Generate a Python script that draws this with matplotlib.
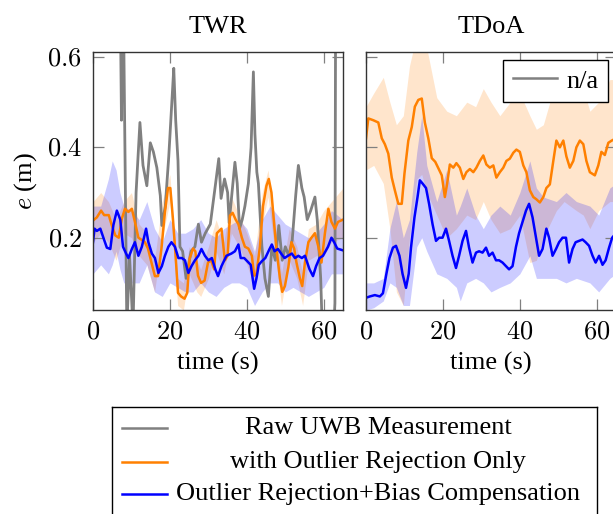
import numpy as np
import matplotlib
matplotlib.use("Agg")
import matplotlib.pyplot as plt
from matplotlib.lines import Line2D

plt.rcParams['font.family'] = ['Liberation Serif', 'DejaVu Serif']
plt.rcParams['mathtext.fontset'] = 'cm'

# ---------------- data ----------------
titles = ["TWR", "TDoA"]
xticks = [0, 20, 40, 60]
yticks = [0.2, 0.4, 0.6]
legend_labels = ["Raw UWB Measurement", "with Outlier Rejection Only",
                 "Outlier Rejection+Bias Compensation"]
na_label = "n/a"

# TWR raw measurement error (t, e)
twr_raw = [(7.0, 0.80), (7.4, 0.46), (7.8, 0.80), (8.8, 0.00), (9.5, 0.16), (10.4, 0.00),
           (11.2, 0.30), (12.2, 0.455), (13.0, 0.36), (14.0, 0.315), (14.9, 0.41), (15.7, 0.39),
           (16.6, 0.355), (17.5, 0.293), (17.9, 0.227), (18.8, 0.27), (19.7, 0.38), (20.6, 0.515),
           (21.0, 0.575), (21.5, 0.46), (22.1, 0.37), (22.6, 0.18), (23.3, 0.17), (24.2, 0.11),
           (25.5, 0.17), (26.5, 0.18), (27.4, 0.23), (28.2, 0.19), (29.2, 0.21), (30.5, 0.23),
           (31.8, 0.315), (32.7, 0.375), (33.3, 0.287), (34.2, 0.33), (35.0, 0.30), (35.4, 0.233),
           (36.0, 0.287), (36.9, 0.367), (37.5, 0.32), (38.1, 0.22), (38.8, 0.24), (39.5, 0.27),
           (40.4, 0.32), (41.1, 0.40), (41.7, 0.567), (42.1, 0.43), (42.6, 0.345), (43.0, 0.32),
           (43.9, 0.182), (44.7, 0.11), (45.6, 0.07), (46.5, 0.18), (47.4, 0.15), (48.3, 0.227),
           (49.2, 0.15), (50.0, 0.18), (50.9, 0.16), (51.8, 0.195), (52.7, 0.293), (53.4, 0.36),
           (54.3, 0.31), (54.9, 0.29), (55.7, 0.24), (56.6, 0.26), (57.7, 0.29), (58.3, 0.24),
           (59.2, 0.11), (59.6, 0.00), (60.3, 0.00), (61.5, 0.00), (62.6, 0.00), (62.9, 0.055),
           (63.1, 0.80), (65.0, 0.80)]

# TWR with outlier rejection only (t, e)
twr_or = [(0, 0.238), (1.0, 0.245), (2.1, 0.26), (2.9, 0.25), (4.1, 0.25), (4.9, 0.227),
          (5.8, 0.205), (6.7, 0.20), (7.5, 0.242), (8.3, 0.264), (9.2, 0.257), (10.1, 0.264),
          (10.9, 0.235), (11.8, 0.20), (12.7, 0.195), (13.5, 0.19), (14.3, 0.176), (15.2, 0.145),
          (16.1, 0.115), (16.9, 0.115), (17.8, 0.176), (18.7, 0.257), (19.5, 0.31), (20.1, 0.31),
          (20.8, 0.24), (21.4, 0.17), (22.1, 0.078), (22.9, 0.07), (23.8, 0.065), (24.5, 0.078),
          (25.1, 0.153), (26.0, 0.176), (26.6, 0.17), (27.3, 0.116), (28.1, 0.10), (29.0, 0.105),
          (29.9, 0.145), (30.7, 0.15), (31.5, 0.13), (32.2, 0.21), (33.4, 0.22), (34.3, 0.15),
          (35.0, 0.16), (35.6, 0.249), (36.3, 0.255), (37.1, 0.24), (37.8, 0.23), (38.7, 0.20),
          (39.5, 0.18), (40.4, 0.176), (41.3, 0.16), (41.9, 0.116), (42.5, 0.12), (43.4, 0.18),
          (44.2, 0.27), (45.1, 0.315), (45.7, 0.33), (46.4, 0.30), (47.1, 0.23), (47.7, 0.176),
          (48.6, 0.11), (49.2, 0.08), (49.9, 0.093), (50.8, 0.135), (51.6, 0.19), (52.3, 0.176),
          (52.9, 0.145), (53.8, 0.11), (54.4, 0.093), (55.1, 0.145), (56.0, 0.19), (56.8, 0.20),
          (57.7, 0.21), (58.6, 0.18), (59.4, 0.145), (60.3, 0.21), (61.2, 0.264), (62.0, 0.235),
          (62.9, 0.22), (63.7, 0.235), (65.0, 0.24)]

# TWR with outlier rejection + bias compensation (t, e)
twr_bc = [(0, 0.19), (0.4, 0.22), (1.0, 0.215), (1.9, 0.22), (2.7, 0.20), (3.6, 0.178),
          (4.5, 0.175), (5.3, 0.228), (6.2, 0.26), (7.1, 0.24), (7.8, 0.18), (8.6, 0.165),
          (9.2, 0.155), (10.1, 0.175), (10.9, 0.19), (11.8, 0.16), (12.7, 0.18), (13.8, 0.22),
          (14.4, 0.19), (15.3, 0.165), (16.1, 0.155), (17.0, 0.122), (17.9, 0.137), (18.7, 0.16),
          (19.6, 0.18), (20.4, 0.19), (21.3, 0.18), (22.2, 0.155), (23.1, 0.155), (23.9, 0.15),
          (24.8, 0.122), (25.6, 0.137), (26.5, 0.15), (27.4, 0.16), (28.2, 0.175), (29.1, 0.16),
          (30.0, 0.15), (30.9, 0.155), (31.8, 0.13), (32.5, 0.115), (33.4, 0.137), (34.7, 0.16),
          (36.0, 0.165), (36.9, 0.17), (37.8, 0.185), (38.4, 0.155), (39.3, 0.155), (40.1, 0.148),
          (41.0, 0.14), (41.9, 0.087), (42.5, 0.11), (43.1, 0.14), (43.9, 0.148), (44.8, 0.155),
          (45.9, 0.175), (46.5, 0.185), (47.2, 0.17), (48.1, 0.175), (48.9, 0.165), (49.8, 0.155),
          (50.7, 0.16), (51.7, 0.165), (52.5, 0.155), (53.4, 0.16), (54.3, 0.155), (55.1, 0.16),
          (56.3, 0.13), (57.2, 0.115), (58.0, 0.137), (58.9, 0.155), (59.8, 0.16), (61.1, 0.18),
          (62.0, 0.20), (62.7, 0.19), (63.5, 0.176), (65.0, 0.172)]

# TWR spread bands (t, low, high)
twr_or_band = [(0, 0.19, 0.28), (2, 0.21, 0.30), (4, 0.19, 0.28), (6, 0.15, 0.24), (8, 0.21, 0.28),
               (10, 0.20, 0.30), (12, 0.16, 0.23), (14, 0.14, 0.21), (16, 0.08, 0.15), (18, 0.20, 0.28),
               (20, 0.28, 0.34), (22, 0.05, 0.11), (23.5, 0.04, 0.10), (25, 0.12, 0.18), (27, 0.08, 0.15),
               (28, 0.07, 0.13), (30, 0.11, 0.18), (32, 0.17, 0.24), (34, 0.12, 0.19), (36, 0.21, 0.29),
               (38, 0.18, 0.25), (40, 0.14, 0.21), (42, 0.09, 0.16), (44, 0.23, 0.30), (45.5, 0.29, 0.35),
               (47, 0.19, 0.26), (49, 0.05, 0.12), (51, 0.15, 0.22), (53, 0.11, 0.18), (54.5, 0.05, 0.12),
               (56, 0.15, 0.22), (58, 0.16, 0.23), (60, 0.16, 0.26), (62, 0.19, 0.28), (65, 0.20, 0.31)]
twr_bc_band = [(0, 0.12, 0.27), (2, 0.14, 0.27), (4, 0.12, 0.33), (5, 0.14, 0.37), (6, 0.17, 0.35),
               (7, 0.13, 0.30), (8, 0.10, 0.27), (10, 0.10, 0.26), (12, 0.10, 0.24), (14, 0.14, 0.28),
               (16, 0.08, 0.22), (18, 0.07, 0.19), (20, 0.10, 0.24), (22, 0.09, 0.21), (24, 0.08, 0.21),
               (26, 0.08, 0.22), (28, 0.10, 0.24), (30, 0.08, 0.21), (32, 0.07, 0.20), (34, 0.09, 0.22),
               (36, 0.10, 0.23), (38, 0.10, 0.24), (40, 0.09, 0.22), (42, 0.05, 0.17), (44, 0.08, 0.24),
               (46, 0.10, 0.27), (48, 0.10, 0.25), (50, 0.08, 0.23), (52, 0.09, 0.22), (54, 0.08, 0.21),
               (56, 0.07, 0.20), (58, 0.08, 0.21), (60, 0.09, 0.23), (62, 0.12, 0.26), (65, 0.12, 0.24)]

# TDoA with outlier rejection only (t, e)
tdoa_or = [(0, 0.42), (0.6, 0.464), (1.9, 0.46), (3.2, 0.455), (4.1, 0.42), (4.9, 0.407), (5.8, 0.386),
           (6.7, 0.333), (7.5, 0.305), (8.4, 0.275), (9.3, 0.275), (10.0, 0.342), (11.0, 0.415),
           (11.9, 0.445), (12.7, 0.49), (13.6, 0.505), (14.5, 0.508), (15.3, 0.455), (16.2, 0.42),
           (17.1, 0.376), (18.0, 0.368), (18.8, 0.354), (19.7, 0.338), (20.5, 0.29), (21.1, 0.32),
           (21.8, 0.362), (22.7, 0.355), (23.5, 0.365), (24.4, 0.355), (25.3, 0.33), (26.1, 0.345),
           (27.0, 0.352), (27.9, 0.345), (28.7, 0.355), (29.6, 0.37), (30.5, 0.382), (31.3, 0.362),
           (32.2, 0.355), (33.1, 0.36), (33.9, 0.333), (34.8, 0.345), (35.7, 0.355), (36.5, 0.37),
           (37.4, 0.375), (38.3, 0.388), (39.1, 0.395), (40.0, 0.39), (40.9, 0.36), (41.7, 0.345),
           (42.6, 0.305), (43.5, 0.29), (44.3, 0.285), (45.2, 0.278), (46.1, 0.29), (46.9, 0.31),
           (47.8, 0.318), (48.7, 0.37), (49.5, 0.415), (50.4, 0.40), (51.3, 0.415), (52.1, 0.38),
           (53.0, 0.355), (53.9, 0.37), (54.7, 0.40), (55.6, 0.415), (56.5, 0.407), (57.3, 0.37),
           (58.2, 0.345), (59.5, 0.338), (60.4, 0.36), (61.2, 0.39), (62.1, 0.383), (63.0, 0.41),
           (63.9, 0.415), (65.0, 0.42)]

# TDoA with outlier rejection + bias compensation (t, e)
tdoa_bc = [(0, 0.067), (1.0, 0.07), (2.3, 0.073), (3.6, 0.07), (4.4, 0.077), (5.3, 0.12), (6.1, 0.155),
           (7.0, 0.178), (7.8, 0.182), (8.7, 0.16), (9.5, 0.12), (10.4, 0.089), (11.1, 0.12),
           (11.7, 0.178), (12.6, 0.245), (13.4, 0.29), (14.0, 0.327), (14.7, 0.32), (15.6, 0.31),
           (16.4, 0.275), (17.3, 0.23), (18.2, 0.193), (19.0, 0.20), (19.9, 0.20), (20.8, 0.22),
           (21.6, 0.193), (22.5, 0.16), (23.4, 0.133), (24.2, 0.16), (25.1, 0.193), (26.0, 0.215),
           (26.8, 0.178), (27.7, 0.145), (28.6, 0.167), (29.4, 0.17), (30.3, 0.167), (31.2, 0.178),
           (32.0, 0.16), (32.9, 0.167), (33.8, 0.15), (34.6, 0.15), (35.5, 0.145), (36.4, 0.137),
           (37.2, 0.13), (38.1, 0.137), (39.0, 0.18), (39.8, 0.21), (40.7, 0.235), (41.6, 0.26),
           (42.4, 0.275), (43.3, 0.245), (44.2, 0.20), (45.0, 0.16), (45.9, 0.175), (46.9, 0.22),
           (47.6, 0.20), (48.5, 0.16), (49.4, 0.175), (50.2, 0.19), (51.1, 0.20), (52.0, 0.20),
           (52.8, 0.145), (53.7, 0.175), (54.5, 0.19), (55.4, 0.193), (56.3, 0.196), (57.1, 0.19),
           (58.0, 0.182), (58.9, 0.16), (59.7, 0.145), (60.6, 0.16), (61.5, 0.14), (62.3, 0.15),
           (63.2, 0.178), (64.0, 0.20), (65.0, 0.21)]

# TDoA spread bands (t, low, high)
tdoa_or_band = [(0, 0.35, 0.49), (2, 0.36, 0.52), (4.5, 0.32, 0.555), (6.2, 0.22, 0.50), (7.9, 0.08, 0.45),
                (9.7, 0.05, 0.47), (11.3, 0.20, 0.58), (13.2, 0.33, 0.65), (14.5, 0.34, 0.65),
                (15.8, 0.30, 0.62), (18.4, 0.25, 0.51), (21.0, 0.20, 0.48), (23.5, 0.22, 0.47),
                (26.2, 0.25, 0.50), (28.5, 0.24, 0.49), (30.5, 0.28, 0.53), (32.5, 0.24, 0.50),
                (34.8, 0.21, 0.47), (37.5, 0.22, 0.50), (40.0, 0.25, 0.52), (42.6, 0.145, 0.47),
                (44.3, 0.15, 0.44), (46.1, 0.20, 0.45), (49.5, 0.26, 0.55), (51.5, 0.28, 0.52),
                (54.7, 0.26, 0.56), (56.5, 0.25, 0.53), (58.2, 0.22, 0.48), (60.5, 0.26, 0.50),
                (63.4, 0.28, 0.55), (65, 0.28, 0.55)]
tdoa_bc_band = [(0, 0.04, 0.10), (2, 0.045, 0.10), (4.5, 0.06, 0.11), (6.2, 0.10, 0.22), (7.9, 0.09, 0.28),
                (9.7, 0.05, 0.20), (11.3, 0.05, 0.24), (13.2, 0.18, 0.39), (14.5, 0.20, 0.47),
                (15.8, 0.17, 0.36), (18.4, 0.12, 0.28), (21.0, 0.11, 0.35), (23.5, 0.09, 0.25),
                (24.5, 0.06, 0.27), (26.2, 0.10, 0.31), (28.5, 0.11, 0.25), (30.5, 0.10, 0.22),
                (32.5, 0.08, 0.25), (34.8, 0.09, 0.27), (37.5, 0.10, 0.25), (40.0, 0.12, 0.30),
                (42.6, 0.16, 0.37), (44.3, 0.11, 0.31), (46.1, 0.11, 0.29), (49.5, 0.11, 0.28),
                (52, 0.10, 0.30), (54.7, 0.11, 0.28), (58.2, 0.10, 0.27), (60.5, 0.08, 0.25),
                (63.4, 0.11, 0.31), (65, 0.12, 0.32)]

# ---------------- style ----------------
C_RAW = '#808080'
C_OR = '#ff8000'
C_BC = '#0000ff'
FS = 19
LW = 1.8

W, H = 613, 514
fig = plt.figure(figsize=(W / 100, H / 100), dpi=100)


def fpos(l, t, r, b):
    return [l / W, 1 - b / H, (r - l) / W, (b - t) / H]


ax1 = fig.add_axes(fpos(93, 52, 343, 310))
ax2 = fig.add_axes(fpos(366, 52, 616, 310))


def arr(d):
    return np.array(d, dtype=float).T


for ax, title in zip([ax1, ax2], titles):
    ax.set_xlim(0, 65)
    ax.set_ylim(0.04, 0.611)
    ax.set_xticks(xticks)
    ax.set_yticks(yticks)
    ax.tick_params(direction='in', top=True, right=True, length=8, width=0.9,
                   color='#808080', labelsize=FS, pad=8)
    for s in ax.spines.values():
        s.set_color('#333333')
        s.set_linewidth(1.0)
    ax.set_title(title, fontsize=FS, pad=14)
    ax.set_xlabel('time (s)', fontsize=FS, labelpad=6)
    ax.set_xticklabels([f'${v}$' for v in xticks])

ax1.set_yticklabels([f'${v:.1f}$' for v in yticks])
ax2.set_yticklabels([])
ax1.set_ylabel('$e$ (m)', fontsize=FS, labelpad=6)

# TWR panel
tb, lo, hi = arr(twr_or_band)
ax1.fill_between(tb, lo, hi, color=C_OR, alpha=0.2, lw=0)
tb, lo, hi = arr(twr_bc_band)
ax1.fill_between(tb, lo, hi, color=C_BC, alpha=0.2, lw=0)
t, v = arr(twr_raw)
ax1.plot(t, v, color=C_RAW, lw=LW + 0.2)
t, v = arr(twr_or)
ax1.plot(t, v, color=C_OR, lw=LW)
t, v = arr(twr_bc)
ax1.plot(t, v, color=C_BC, lw=LW)

# TDoA panel
tb, lo, hi = arr(tdoa_or_band)
ax2.fill_between(tb, lo, hi, color=C_OR, alpha=0.2, lw=0)
tb, lo, hi = arr(tdoa_bc_band)
ax2.fill_between(tb, lo, hi, color=C_BC, alpha=0.2, lw=0)
t, v = arr(tdoa_or)
ax2.plot(t, v, color=C_OR, lw=LW)
t, v = arr(tdoa_bc)
ax2.plot(t, v, color=C_BC, lw=LW)
ax2.plot([], [], color=C_RAW, lw=LW, label=na_label)
leg2 = ax2.legend(loc='upper right', bbox_to_anchor=(608 / W, 1 - 60 / H),
                  bbox_transform=fig.transFigure, borderaxespad=0, fontsize=FS,
                  fancybox=False, framealpha=1, edgecolor='black', handlelength=1.7,
                  handletextpad=0.35, borderpad=0.35)
leg2.get_frame().set_linewidth(1.0)

# Bottom legend (centered entries, as in the reference)
lax = fig.add_axes(fpos(112, 407, 597, 545))
lax.set_xlim(0, 485)
lax.set_ylim(138, 0)
lax.set_xticks([])
lax.set_yticks([])
for s in lax.spines.values():
    s.set_color('black')
    s.set_linewidth(1.0)
rows = [21, 55, 87]
for y, c, lab in zip(rows, [C_RAW, C_OR, C_BC], legend_labels):
    lax.add_line(Line2D([10, 55], [y, y], color=c, lw=LW))
    lax.text(266, y, lab, ha='center', va='center', fontsize=FS)

fig.savefig('out.png', dpi=100)
